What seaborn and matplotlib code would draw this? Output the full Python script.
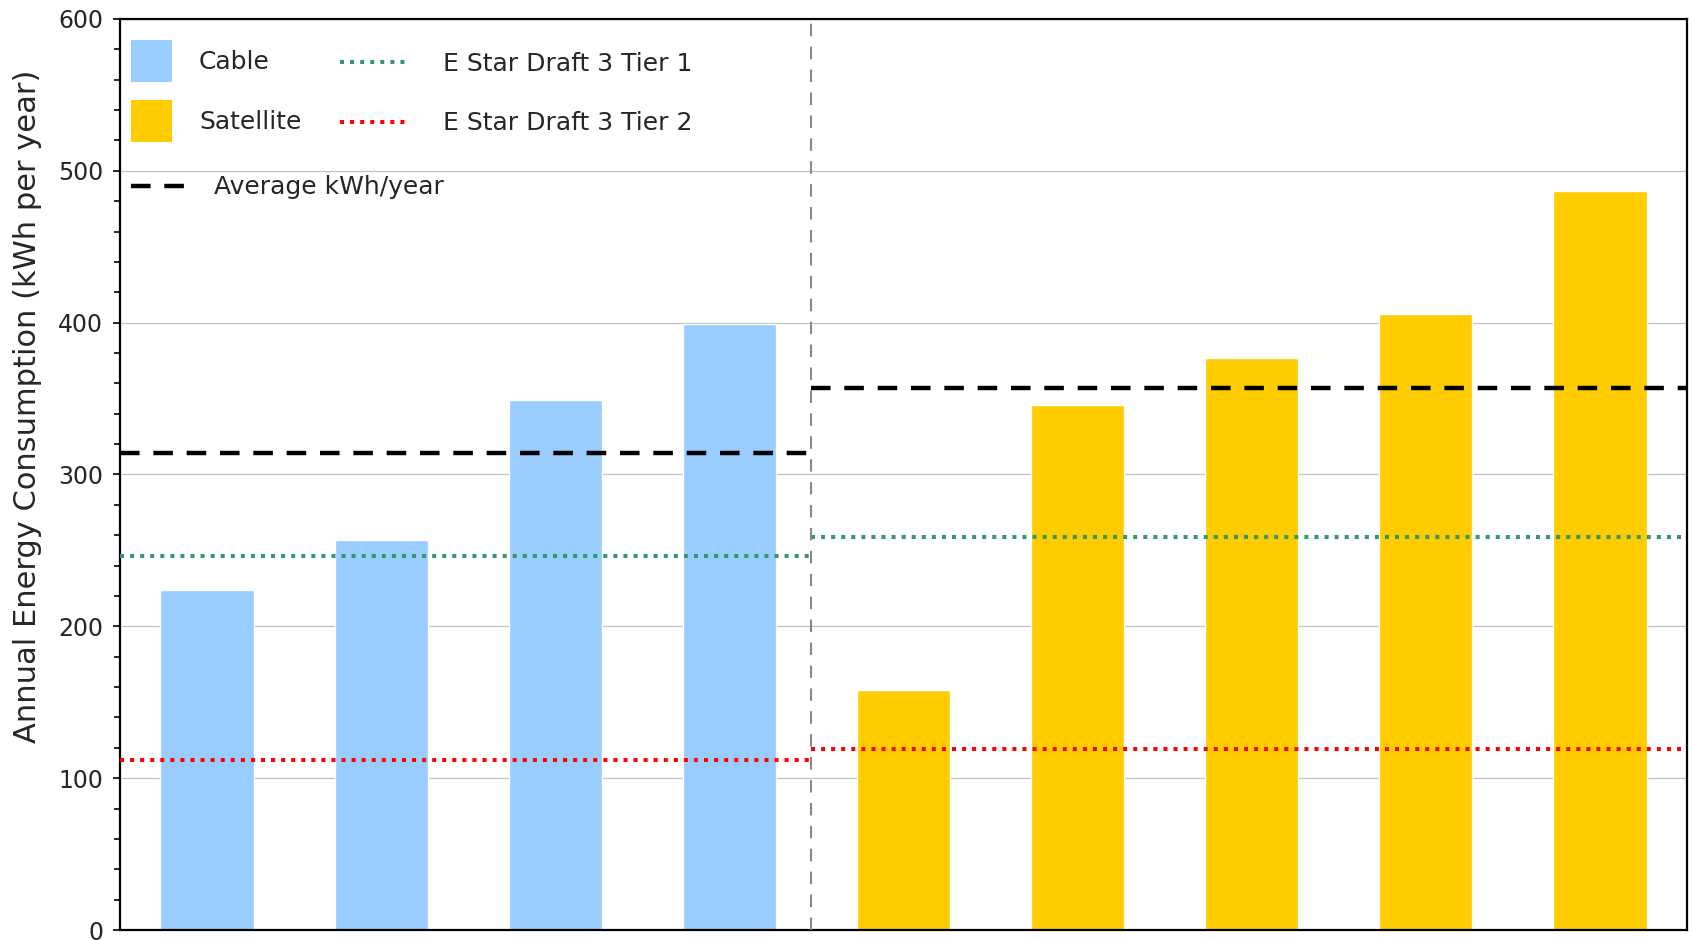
import numpy as np
import pandas as pd
import matplotlib
matplotlib.use('Agg')
import matplotlib.pyplot as plt
import seaborn as sns
from matplotlib.patches import Patch
from matplotlib.lines import Line2D

# 데이터
cable_vals = [224, 257, 349, 399]
satellite_vals = [158, 346, 377, 406, 487]
avg_vals = [314, 357]        # Cable, Satellite 평균
tier1_vals = [246, 259]      # E Star Draft 3 Tier 1
tier2_vals = [112, 119]      # E Star Draft 3 Tier 2

group_names = ['Cable', 'Satellite']
colors = {'Cable': '#99CCFF', 'Satellite': '#FFCC00'}

# 데이터프레임 생성
df = pd.DataFrame({
    'item': [f'C{i+1}' for i in range(len(cable_vals))] + [f'S{i+1}' for i in range(len(satellite_vals))],
    'kwh': cable_vals + satellite_vals,
    'type': ['Cable'] * len(cable_vals) + ['Satellite'] * len(satellite_vals),
})

sns.set_style('white')
plt.rcParams['font.family'] = ['DejaVu Sans']

fig = plt.figure(figsize=(16.93, 9.40), dpi=100)
ax = fig.add_axes([120 / 1693, 10 / 940, 1567 / 1693, 911 / 940])

# 막대
sns.barplot(data=df, x='item', y='kwh', hue='type', palette=colors, dodge=False,
            width=0.535, saturation=1, legend=False, ax=ax, zorder=2)

# 구분선 위치
split = 3.47
x_lo, x_hi = -0.5, len(df) - 0.5
spans = [(x_lo, split), (split, x_hi)]

# 기준선 / 평균선
for (a, b), t1, t2, av in zip(spans, tier1_vals, tier2_vals, avg_vals):
    ax.hlines(t1, a, b, colors='#339966', linewidth=2.9, linestyles=(0, (1, 1.5)), zorder=3)
    ax.hlines(t2, a, b, colors='#FF0000', linewidth=2.9, linestyles=(0, (1, 1.5)), zorder=3)
    ax.hlines(av, a, b, colors='black', linewidth=3.2, linestyles=(0, (4.4, 3.1)), zorder=4)

ax.axvline(split, color='#888888', linewidth=1.5, linestyle=(0, (6, 5)), zorder=3)

# 축 설정
ax.set_xlim(x_lo, x_hi)
ax.set_ylim(0, 600)
ax.set_yticks(np.arange(0, 601, 100))
ax.set_yticks(np.arange(0, 601, 20), minor=True)
ax.tick_params(axis='y', which='major', direction='out', length=5, width=1.2, color='black',
               labelsize=17, pad=7, left=True)
ax.tick_params(axis='y', which='minor', direction='out', length=4, width=1.2, color='black', left=True)
ax.tick_params(axis='x', bottom=False, labelbottom=False)
ax.set_xlabel('')
ax.grid(axis='y', which='major', color='#C0C0C0', linewidth=0.9, zorder=0)
ax.set_axisbelow(True)
for s in ax.spines.values():
    s.set_color('black')
    s.set_linewidth(1.6)

ax.set_ylabel('Annual Energy Consumption (kWh per year)', fontsize=22)
ax.yaxis.set_label_coords(-0.05, 0.575)

# 범례
fs = 18
patch_handles = [Patch(facecolor=colors[g], edgecolor='none', label=g) for g in group_names]
leg1 = ax.legend(handles=patch_handles, loc='upper left', bbox_to_anchor=(0.007, 0.9765),
                 frameon=False, fontsize=fs, handlelength=1.64, handleheight=2.2,
                 handletextpad=1.08, labelspacing=0.72, borderpad=0, borderaxespad=0)
ax.add_artist(leg1)

tier_handles = [
    Line2D([], [], color='#339966', linewidth=2.9, linestyle=(0, (1, 1.5)), label='E Star Draft 3 Tier 1'),
    Line2D([], [], color='#FF0000', linewidth=2.9, linestyle=(0, (1, 1.5)), label='E Star Draft 3 Tier 2'),
]
leg2 = ax.legend(handles=tier_handles, loc='upper left', bbox_to_anchor=(0.1404, 0.9643),
                 frameon=False, fontsize=fs, handlelength=2.6, handleheight=0.7,
                 handletextpad=1.52, labelspacing=1.43, borderpad=0, borderaxespad=0)
ax.add_artist(leg2)

avg_handle = [Line2D([], [], color='black', linewidth=3.2, linestyle=(0, (4.4, 3.1)), label='Average kWh/year')]
ax.legend(handles=avg_handle, loc='upper left', bbox_to_anchor=(0.007, 0.8284),
          frameon=False, fontsize=fs, handlelength=2.24, handleheight=0.7,
          handletextpad=1.08, borderpad=0, borderaxespad=0)

plt.savefig('out.png', dpi=100)
